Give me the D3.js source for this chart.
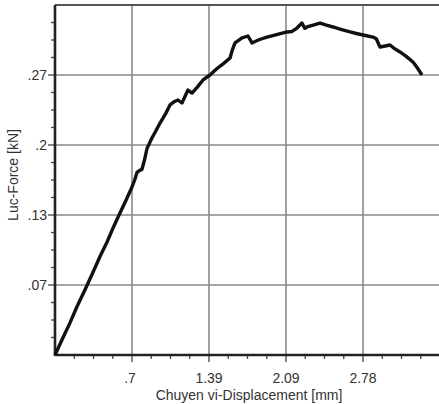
<!DOCTYPE html>
<html>
<head>
<meta charset="utf-8">
<script src="https://cdn.jsdelivr.net/npm/d3@7"></script>
<style>
  body { margin: 0; background: #fff; }
  text { font-family: "Liberation Sans", Arial, sans-serif; fill: #333; }
</style>
</head>
<body>
<script>
// displacement (mm) and force (kN)
var disp = [0, 0.06, 0.135, 0.2, 0.271, 0.34, 0.406, 0.47, 0.53, 0.578, 0.64, 0.695, 0.72, 0.74, 0.765, 0.785, 0.81, 0.83, 0.876, 0.91, 0.948,
  1.0, 1.038, 1.08, 1.11, 1.146, 1.2, 1.237, 1.29, 1.336, 1.399, 1.46, 1.52, 1.58, 1.6, 1.625, 1.688, 1.742, 1.778, 1.84, 1.913,
  2.0, 2.094, 2.14, 2.184, 2.229, 2.255, 2.275, 2.33, 2.392, 2.45, 2.509, 2.58, 2.663, 2.72, 2.78, 2.87, 2.9, 2.933, 2.98, 3.024,
  3.07, 3.114, 3.17, 3.231, 3.27, 3.312];
var force = [0, 0.014, 0.031, 0.047, 0.063, 0.079, 0.095, 0.109, 0.124, 0.135, 0.149, 0.162, 0.169, 0.176, 0.178, 0.179, 0.189, 0.199, 0.2095, 0.216, 0.2237,
  0.233, 0.2411, 0.2445, 0.2459, 0.243, 0.2555, 0.2526, 0.259, 0.2652, 0.27, 0.276, 0.281, 0.2864, 0.294, 0.3009, 0.3057, 0.3076, 0.3009, 0.304, 0.3066,
  0.309, 0.3115, 0.312, 0.3153, 0.3201, 0.315, 0.3163, 0.318, 0.3201, 0.318, 0.3163, 0.314, 0.3115, 0.31, 0.3086, 0.3066, 0.305, 0.297, 0.298, 0.2989,
  0.295, 0.2922, 0.288, 0.2825, 0.277, 0.27];

var xTicks = [0.695, 1.39, 2.085, 2.78];
var xTickLabels = [".7", "1.39", "2.09", "2.78"];
var yTicks = [0.0675, 0.135, 0.2025, 0.27];
var yTickLabels = [".07", ".13", ".2", ".27"];

var width = 439,
  height = 404;
var margin = { top: 5, right: 0, bottom: 49, left: 55 };

var svg = d3
  .select("body")
  .append("svg")
  .attr("width", width)
  .attr("height", height);

var x = d3.scaleLinear().domain([0, 3.475]).range([margin.left, margin.left + 385]);
var y = d3.scaleLinear().domain([0, 0.3375]).range([height - margin.bottom, margin.top]);

// grid
svg.selectAll(".vgrid")
  .data(xTicks)
  .enter()
  .append("line")
  .attr("x1", d => x(d)).attr("x2", d => x(d))
  .attr("y1", y(0.3375)).attr("y2", y(0))
  .attr("stroke", "#8a8a8a").attr("stroke-width", 1.6);

svg.selectAll(".hgrid")
  .data(yTicks.concat([0.3375]))
  .enter()
  .append("line")
  .attr("x1", x(0)).attr("x2", width)
  .attr("y1", d => y(d)).attr("y2", d => y(d))
  .attr("stroke", d => d === 0.3375 ? "#555" : "#8a8a8a")
  .attr("stroke-width", d => d === 0.3375 ? 2 : 1.6);

// minor ticks
var xMinor = d3.range(1, 20).map(i => i * 3.475 / 20).filter(v => v < 3.47);
var yMinor = d3.range(1, 20).map(i => i * 0.3375 / 20);

svg.selectAll(".xminor")
  .data(xMinor)
  .enter()
  .append("line")
  .attr("x1", d => x(d)).attr("x2", d => x(d))
  .attr("y1", y(0)).attr("y2", d => y(0) + (xTicks.some(t => Math.abs(t - d) < 1e-6) ? 7 : 4))
  .attr("stroke", "#444").attr("stroke-width", 1.3);

svg.selectAll(".yminor")
  .data(yMinor)
  .enter()
  .append("line")
  .attr("y1", d => y(d)).attr("y2", d => y(d))
  .attr("x1", x(0)).attr("x2", d => x(0) - (yTicks.some(t => Math.abs(t - d) < 1e-6) ? 7 : 4))
  .attr("stroke", "#444").attr("stroke-width", 1.3);

// axis lines
svg.append("line")
  .attr("x1", x(0)).attr("x2", width)
  .attr("y1", y(0)).attr("y2", y(0))
  .attr("stroke", "#222").attr("stroke-width", 2.6);
svg.append("line")
  .attr("x1", x(0)).attr("x2", x(0))
  .attr("y1", y(0.3375)).attr("y2", y(0) + 1)
  .attr("stroke", "#222").attr("stroke-width", 2.6);

// tick labels
svg.selectAll(".xlab")
  .data(xTicks)
  .enter()
  .append("text")
  .attr("x", (d, i) => x(d) - (i === 0 ? 2 : 0))
  .attr("y", 383)
  .attr("text-anchor", "middle")
  .attr("font-size", 14)
  .text((d, i) => xTickLabels[i]);

svg.selectAll(".ylab")
  .data(yTicks)
  .enter()
  .append("text")
  .attr("x", 47)
  .attr("y", d => y(d) + 5)
  .attr("text-anchor", "end")
  .attr("font-size", 14)
  .text((d, i) => yTickLabels[i]);

// axis titles
svg.append("text")
  .attr("x", 249)
  .attr("y", 400)
  .attr("text-anchor", "middle")
  .attr("font-size", 14)
  .text("Chuyen vi-Displacement [mm]");

svg.append("text")
  .attr("transform", "translate(18,175) rotate(-90)")
  .attr("text-anchor", "middle")
  .attr("font-size", 14)
  .text("Luc-Force  [kN]");

// curve
var line = d3.line()
  .x((d, i) => x(disp[i]))
  .y((d, i) => y(force[i]));

svg.append("path")
  .datum(disp)
  .attr("d", line)
  .attr("fill", "none")
  .attr("stroke", "#111")
  .attr("stroke-width", 3.4)
  .attr("stroke-linejoin", "round");
</script>
</body>
</html>
